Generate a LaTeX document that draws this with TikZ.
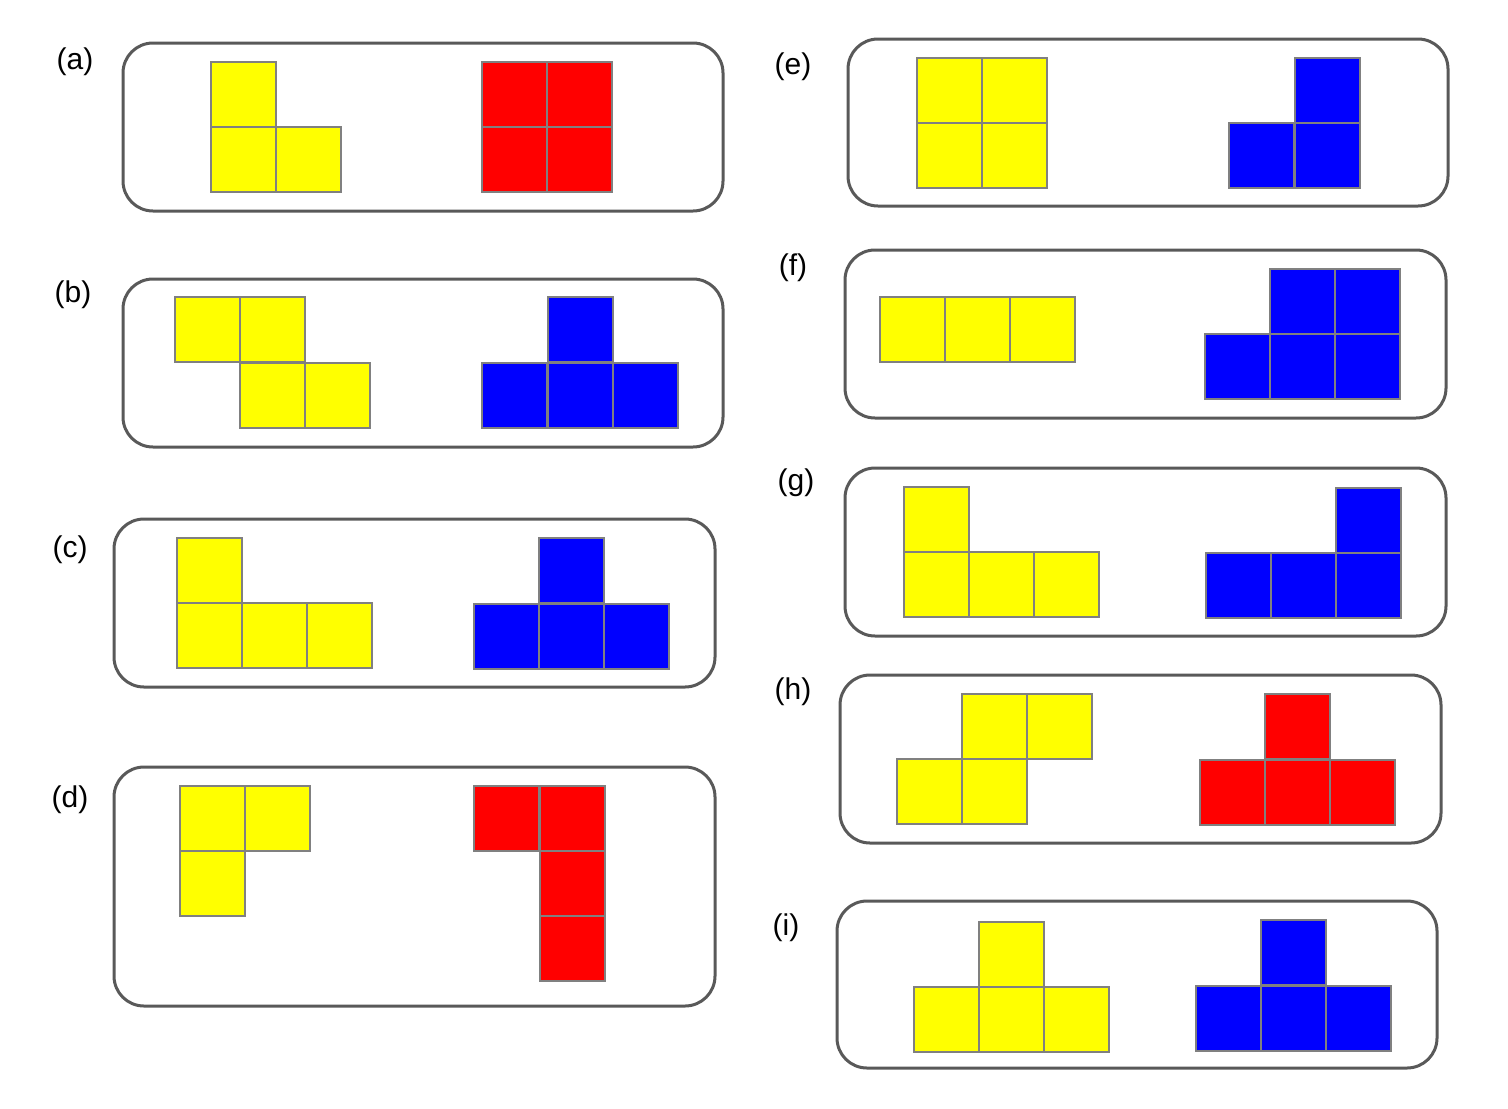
\documentclass[tikz,border=0pt]{standalone}
\usepackage{fontspec}
\setmainfont{Liberation Sans}
\begin{document}
\begin{tikzpicture}[x=0.5pt,y=-0.5pt,
  panel/.style={draw=black!65,line width=1.5pt,rounded corners=15pt},
  cell/.style={draw=black!50,line width=1.4pt},
  lab/.style={font=\fontsize{15}{18}\selectfont}]
\definecolor{yel}{RGB}{255,255,0}
\definecolor{rd}{RGB}{255,0,0}
\definecolor{bl}{RGB}{0,0,255}
\newcommand\sqq[3]{\draw[cell,fill=#3] (#1,#2) rectangle ++(65,65);}
\useasboundingbox (0,0) rectangle (1508,1108);
% panels
\draw[panel] (123,43) rectangle (723,211);
\draw[panel] (123,279) rectangle (723,447);
\draw[panel] (114,519) rectangle (715,687);
\draw[panel] (114,767) rectangle (715,1006);
\draw[panel] (848,39) rectangle (1448,206);
\draw[panel] (845,250) rectangle (1446,418);
\draw[panel] (845,468) rectangle (1446,636);
\draw[panel] (840,675) rectangle (1441,843);
\draw[panel] (837,901) rectangle (1437,1068);
% labels
\node[lab] (la) at (75,62) {(a)};
\node[lab] (lb) at (73,295) {(b)};
\node[lab] (lc) at (70,550) {(c)};
\node[lab] (ld) at (70,800) {(d)};
\node[lab] (le) at (793,67) {(e)};
\node[lab] (lf) at (793,268) {(f)};
\node[lab] (lg) at (796,483) {(g)};
\node[lab] (lh) at (793,692) {(h)};
\node[lab] (li) at (786,928) {(i)};
% a
\sqq{211}{62}{yel}\sqq{211}{127}{yel}\sqq{276}{127}{yel}
\sqq{482}{62}{rd}\sqq{547}{62}{rd}\sqq{482}{127}{rd}\sqq{547}{127}{rd}
% b
\sqq{175}{297}{yel}\sqq{240}{297}{yel}\sqq{240}{363}{yel}\sqq{305}{363}{yel}
\sqq{548}{297}{bl}\sqq{482}{363}{bl}\sqq{548}{363}{bl}\sqq{613}{363}{bl}
% c
\sqq{177}{538}{yel}\sqq{177}{603}{yel}\sqq{242}{603}{yel}\sqq{307}{603}{yel}
\sqq{539}{538}{bl}\sqq{474}{604}{bl}\sqq{539}{604}{bl}\sqq{604}{604}{bl}
% d
\sqq{180}{786}{yel}\sqq{245}{786}{yel}\sqq{180}{851}{yel}
\sqq{474}{786}{rd}\sqq{540}{786}{rd}\sqq{540}{851}{rd}\sqq{540}{916}{rd}
% e
\sqq{917}{58}{yel}\sqq{982}{58}{yel}\sqq{917}{123}{yel}\sqq{982}{123}{yel}
\sqq{1295}{58}{bl}\sqq{1229}{123}{bl}\sqq{1295}{123}{bl}
% f
\sqq{880}{297}{yel}\sqq{945}{297}{yel}\sqq{1010}{297}{yel}
\sqq{1270}{269}{bl}\sqq{1335}{269}{bl}\sqq{1205}{334}{bl}\sqq{1270}{334}{bl}\sqq{1335}{334}{bl}
% g
\sqq{904}{487}{yel}\sqq{904}{552}{yel}\sqq{969}{552}{yel}\sqq{1034}{552}{yel}
\sqq{1336}{488}{bl}\sqq{1206}{553}{bl}\sqq{1271}{553}{bl}\sqq{1336}{553}{bl}
% h
\sqq{962}{694}{yel}\sqq{1027}{694}{yel}\sqq{897}{759}{yel}\sqq{962}{759}{yel}
\sqq{1265}{694}{rd}\sqq{1200}{760}{rd}\sqq{1265}{760}{rd}\sqq{1330}{760}{rd}
% i
\sqq{979}{922}{yel}\sqq{914}{987}{yel}\sqq{979}{987}{yel}\sqq{1044}{987}{yel}
\sqq{1261}{920}{bl}\sqq{1196}{986}{bl}\sqq{1261}{986}{bl}\sqq{1326}{986}{bl}
\end{tikzpicture}
\end{document}
